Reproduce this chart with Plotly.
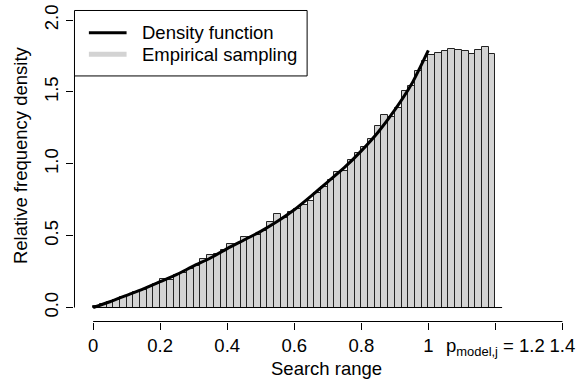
import numpy as np
import plotly.graph_objects as go

# ---- data ----
bin_width = 0.02
bin_start = 0.0
bar_heights = [
    0.008, 0.025, 0.040, 0.055, 0.075, 0.090, 0.110, 0.125, 0.145, 0.165,
    0.200, 0.190, 0.225, 0.240, 0.270,
    0.290, 0.336, 0.363, 0.370, 0.400, 0.440, 0.445, 0.488, 0.490, 0.505,
    0.530, 0.593, 0.648, 0.620, 0.666,
    0.685, 0.717, 0.740, 0.800, 0.838, 0.890, 0.945, 0.947, 1.030, 1.073,
    1.120, 1.173, 1.265, 1.340, 1.326,
    1.386, 1.507, 1.541, 1.644, 1.716,
    1.760, 1.774, 1.783, 1.800, 1.792, 1.785, 1.767, 1.795, 1.812, 1.767,
]
curve_x = [0.0, 0.05, 0.1, 0.15, 0.2, 0.25, 0.3, 0.35, 0.4, 0.45, 0.5,
           0.55, 0.6, 0.65, 0.7, 0.75, 0.8, 0.85, 0.9, 0.95, 1.0]
curve_y = [0.0, 0.04, 0.085, 0.13, 0.18, 0.23, 0.29, 0.345, 0.41, 0.47, 0.53,
           0.60, 0.68, 0.775, 0.875, 0.975, 1.09, 1.22, 1.375, 1.555, 1.79]
x_tickvals = [0, 0.2, 0.4, 0.6, 0.8, 1.0, 1.2, 1.4]
x_ticktext = ["0", "0.2", "0.4", "0.6", "0.8", "1", "p<sub>model,j</sub> = 1.2", "1.4"]
y_tickvals = [0, 0.5, 1.0, 1.5, 2.0]
y_ticktext = ["0.0", "0.5", "1.0", "1.5", "2.0"]
legend_labels = ["Density function", "Empirical sampling"]
x_title = "Search range"
y_title = "Relative frequency density"

# ---- layout geometry (pixels) ----
W, H = 580, 383
L, R, T, B = 74, 5, 5, 61
pw, ph = W - L - R, H - T - B
FONT = "Liberation Sans, Arial, Helvetica, sans-serif"
FS = 18.5
GREY = "#d3d3d3"


def px(x):
    return (x - L) / pw


def py(y):
    return (H - B - y) / ph


bar_x = bin_start + bin_width * (np.arange(len(bar_heights)) + 0.5)

x0v = (L - 93.3) / 337.9
x1v = (W - R - 93.3) / 337.9
y0v = (307.3 - (H - B)) / 146.0
y1v = (307.3 - T) / 146.0
y_axisline = (307.3 - 321.5) / 146.0

fig = go.Figure()
fig.add_trace(go.Bar(
    x=bar_x, y=bar_heights, width=bin_width,
    marker=dict(color=GREY, line=dict(color="#222222", width=1)),
    showlegend=False, hoverinfo="skip",
))
fig.add_trace(go.Scatter(
    x=curve_x, y=curve_y, mode="lines",
    line=dict(color="black", width=3, shape="spline", smoothing=0.6),
    showlegend=False,
))
# x axis line (R style: from first to last tick)
fig.add_trace(go.Scatter(
    x=[x_tickvals[0], x_tickvals[-1]], y=[y_axisline, y_axisline], mode="lines",
    line=dict(color="black", width=1), cliponaxis=False,
    showlegend=False, hoverinfo="skip",
))

shapes = []
# baseline under histogram
shapes.append(dict(type="line", xref="x", yref="y", x0=0, x1=1.22, y0=0, y1=0,
                   line=dict(color="black", width=1)))
# y axis line
shapes.append(dict(type="line", xref="paper", yref="y", x0=px(74.5), x1=px(74.5),
                   y0=y_tickvals[0], y1=y_tickvals[-1], line=dict(color="black", width=1)))
# legend box
shapes.append(dict(type="rect", xref="paper", yref="paper",
                   x0=px(74.5), x1=px(309), y0=py(72), y1=py(5.5),
                   line=dict(color="black", width=1), fillcolor="white"))
shapes.append(dict(type="line", xref="paper", yref="paper",
                   x0=px(89), x1=px(127), y0=py(28), y1=py(28),
                   line=dict(color="black", width=3)))
shapes.append(dict(type="line", xref="paper", yref="paper",
                   x0=px(89), x1=px(127), y0=py(50), y1=py(50),
                   line=dict(color=GREY, width=5)))

annotations = [
    dict(text=legend_labels[0], xref="paper", yref="paper", x=px(141), y=py(28),
         xanchor="left", yanchor="middle", showarrow=False,
         font=dict(family=FONT, size=FS, color="black")),
    dict(text=legend_labels[1], xref="paper", yref="paper", x=px(141), y=py(50),
         xanchor="left", yanchor="middle", showarrow=False,
         font=dict(family=FONT, size=FS, color="black")),
    dict(text=x_title, xref="paper", yref="paper", x=px(329), y=py(369),
         xanchor="center", yanchor="middle", showarrow=False,
         font=dict(family=FONT, size=FS, color="black")),
    dict(text=y_title, xref="paper", yref="paper", x=px(20), y=py(152),
         xanchor="center", yanchor="middle", showarrow=False, textangle=-90,
         font=dict(family=FONT, size=FS, color="black")),
]

fig.update_layout(
    width=W, height=H,
    margin=dict(l=L, r=R, t=T, b=B, pad=0),
    paper_bgcolor="white", plot_bgcolor="white",
    font=dict(family=FONT, size=FS, color="black"),
    bargap=0,
    shapes=shapes,
    annotations=annotations,
    xaxis=dict(range=[x0v, x1v], tickvals=x_tickvals, ticktext=x_ticktext,
               ticks="outside", ticklen=7, tickcolor="black", tickwidth=1,
               showgrid=False, zeroline=False, showline=False,
               ticklabelstandoff=0, ticklabeloverflow="allow", tickfont=dict(size=FS)),
    yaxis=dict(range=[y0v, y1v], tickvals=y_tickvals, ticktext=y_ticktext,
               ticks="outside", ticklen=7, tickcolor="black", tickwidth=1,
               showgrid=False, zeroline=False, showline=False, tickangle=-90,
               ticklabelstandoff=1, ticklabeloverflow="allow", tickfont=dict(size=FS)),
)

fig.write_html("out.html")
